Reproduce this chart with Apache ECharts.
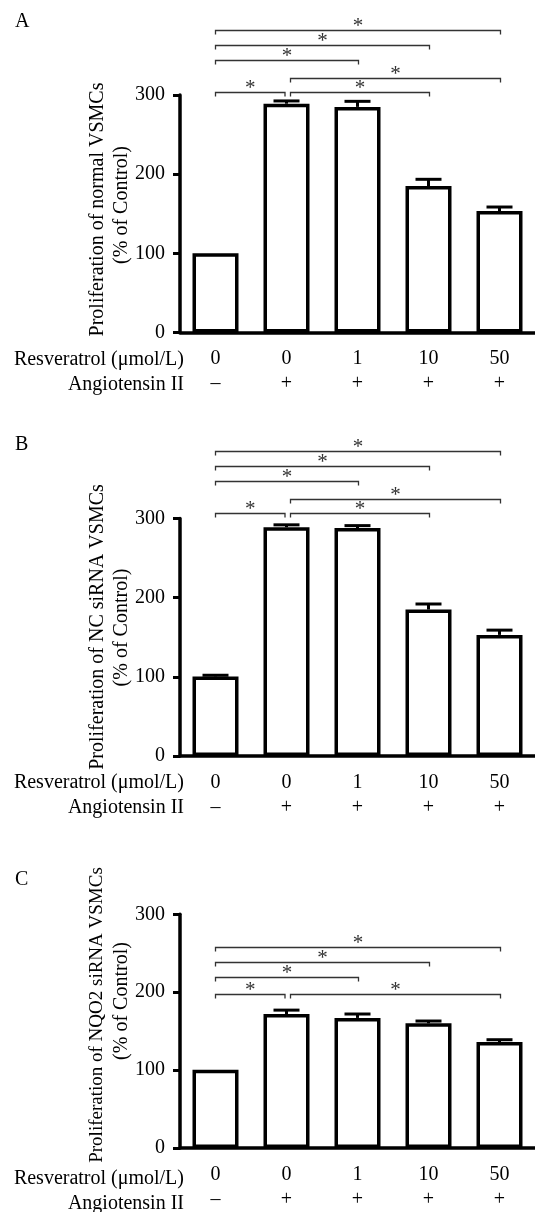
<!DOCTYPE html>
<html>
<head>
<meta charset="utf-8">
<title>VSMC proliferation</title>
<script src="https://cdn.jsdelivr.net/npm/echarts@6/dist/echarts.min.js"></script>
<style>
  html, body { margin: 0; padding: 0; background: #fff; }
  #chart { width: 535px; height: 1212px; }
</style>
</head>
<body>
<div id="chart"></div>
<script>
// x categories: resveratrol dose + angiotensin II
var doseLabels = ['0', '0', '1', '10', '50'];
var angLabels = ['\u2013', '+', '+', '+', '+'];
var yMin = 0, yMax = 300, yStep = 100;

// A: normal VSMCs
var valuesA = [100, 289, 285, 185, 153.5];
var errorsA = [0, 3.5, 7, 8.5, 5];
var bracketsA = [[0, 1, 304], [1, 3, 304], [1, 4, 321], [0, 2, 344], [0, 3, 363.5], [0, 4, 381.5]];

// B: NC siRNA VSMCs
var valuesB = [100.5, 289, 288, 185, 153];
var errorsB = [1.5, 3, 3, 7, 6];
var bracketsB = [[0, 1, 307], [1, 3, 307], [1, 4, 325], [0, 2, 347], [0, 3, 366.5], [0, 4, 385.5]];

// C: NQO2 siRNA VSMCs
var valuesC = [100.5, 172, 167, 160, 136];
var errorsC = [0, 5, 5, 3, 3];
var bracketsC = [[0, 1, 198], [1, 4, 198], [0, 2, 220], [0, 3, 239], [0, 4, 258]];

var yTitles = [
  ['Proliferation of normal VSMCs', '(% of Control)'],
  ['Proliferation of NC siRNA VSMCs', '(% of Control)'],
  ['Proliferation of NQO2 siRNA VSMCs', '(% of Control)']
];
var panelLetters = ['A', 'B', 'C'];

var FONT = '"Liberation Serif", "DejaVu Serif", serif';
var panelTops = [95, 518.5, 914.3];
var gridH = 237.5;
// centres (screen y) of the two rotated title lines per panel
var titleCenters = [[209.5, 205], [627, 627.5], [1015, 1001]];
var titleSizes = [20, 20, 19];
var letterY = [22, 444.5, 880];

var categories = doseLabels.map(function (d, i) { return d + '\n' + angLabels[i]; });
var panels = [
  { values: valuesA, errors: errorsA, brackets: bracketsA },
  { values: valuesB, errors: errorsB, brackets: bracketsB },
  { values: valuesC, errors: errorsC, brackets: bracketsC }
];

var chart = echarts.init(document.getElementById('chart'));

function renderBracket(params, api) {
  var x1 = api.value(0), x2 = api.value(1), y = api.value(2);
  var p1 = api.coord([x1, y]);
  var p2 = api.coord([x2, y]);
  var sx = p1[0] + (x1 > 0 ? 4 : 0);
  var ex = p2[0] + (x2 === 1 ? -1.5 : 1);
  var yy = Math.round(p1[1]) + 0.5;
  var st = { stroke: '#333', lineWidth: 1.3, fill: null };
  return {
    type: 'group',
    children: [
      { type: 'polyline', shape: { points: [[sx, yy + 4], [sx, yy], [ex, yy], [ex, yy + 4]] }, style: st },
      { type: 'text', x: (sx + ex) / 2, y: yy - 4.5,
        style: { text: '*', font: '21px ' + FONT, fill: '#333', align: 'center', verticalAlign: 'middle' } }
    ]
  };
}

function renderError(params, api) {
  var err = api.value(2);
  if (!err) return null;
  var top = api.coord([api.value(0), api.value(1)]);
  var end = api.coord([api.value(0), api.value(1) + err]);
  var st = { stroke: '#000', lineWidth: 3 };
  return {
    type: 'group',
    children: [
      { type: 'line', shape: { x1: top[0], y1: top[1], x2: end[0], y2: end[1] }, style: st },
      { type: 'line', shape: { x1: end[0] - 13, y1: end[1], x2: end[0] + 13, y2: end[1] }, style: st }
    ]
  };
}

var grids = [], xAxes = [], yAxes = [], series = [], graphics = [];
panels.forEach(function (p, i) {
  grids.push({ left: 180, top: panelTops[i], width: 362.5, height: gridH });
  xAxes.push({
    type: 'category', gridIndex: i, data: categories,
    axisLine: { lineStyle: { color: '#000', width: 3.5 } },
    axisTick: { alignWithLabel: true, length: 6, lineStyle: { color: '#000', width: 3 } },
    axisLabel: { interval: 0, margin: 14, fontFamily: FONT, fontSize: 20, lineHeight: 25, color: '#000' },
    splitLine: { show: false }
  });
  yAxes.push({
    type: 'value', gridIndex: i, min: yMin, max: yMax, interval: yStep,
    axisLine: { show: true, lineStyle: { color: '#000', width: 3.5 } },
    axisTick: { show: true, length: 7, lineStyle: { color: '#000', width: 3 } },
    axisLabel: { margin: 15, fontFamily: FONT, fontSize: 20, color: '#000' },
    splitLine: { show: false }
  });
  series.push({
    type: 'bar', xAxisIndex: i, yAxisIndex: i, data: p.values, barWidth: 46,
    itemStyle: { color: '#fff', borderColor: '#000', borderWidth: 3.5 },
    emphasis: { disabled: true }, silent: true
  });
  series.push({
    type: 'custom', xAxisIndex: i, yAxisIndex: i, clip: false, z: 5, silent: true,
    data: p.values.map(function (v, k) { return [k, v, p.errors[k]]; }),
    encode: { x: 0, y: 1 }, renderItem: renderError
  });
  series.push({
    type: 'custom', xAxisIndex: i, yAxisIndex: i, clip: false, z: 5, silent: true,
    data: p.brackets, encode: { x: 0, y: 2 }, renderItem: renderBracket
  });

  var axisY = panelTops[i] + gridH;
  graphics.push({ type: 'text', x: 184, y: axisY + 27,
    style: { text: 'Resveratrol (\u03bcmol/L)', font: '20px ' + FONT, fill: '#000', align: 'right', verticalAlign: 'middle' } });
  graphics.push({ type: 'text', x: 184, y: axisY + 52,
    style: { text: 'Angiotensin II', font: '20px ' + FONT, fill: '#000', align: 'right', verticalAlign: 'middle' } });

  // rotated y-axis title, two lines
  graphics.push({ type: 'text', x: 97.5, y: titleCenters[i][0], rotation: Math.PI / 2,
    style: { text: yTitles[i][0], font: titleSizes[i] + 'px ' + FONT, fill: '#000', align: 'center', verticalAlign: 'middle' } });
  graphics.push({ type: 'text', x: 121.5, y: titleCenters[i][1], rotation: Math.PI / 2,
    style: { text: yTitles[i][1], font: '20px ' + FONT, fill: '#000', align: 'center', verticalAlign: 'middle' } });

  graphics.push({ type: 'text', x: 15, y: letterY[i],
    style: { text: panelLetters[i], font: '20px ' + FONT, fill: '#000', verticalAlign: 'middle' } });
});

chart.setOption({
  animation: false,
  backgroundColor: '#fff',
  grid: grids,
  xAxis: xAxes,
  yAxis: yAxes,
  series: series,
  graphic: graphics
});
</script>
</body>
</html>
